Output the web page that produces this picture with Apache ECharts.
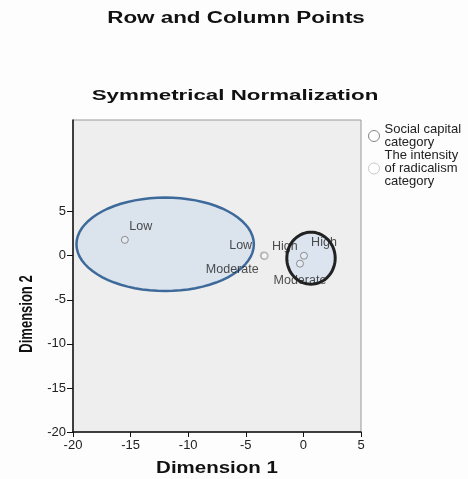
<!DOCTYPE html>
<html>
<head>
<meta charset="utf-8">
<script src="https://cdn.jsdelivr.net/npm/echarts@6/dist/echarts.min.js"></script>
<style>
  html, body { margin: 0; padding: 0; background: #fff; }
  #chart { width: 468px; height: 479px; }
</style>
</head>
<body>
<div id="chart"></div>
<script>
// 类别标签
const categories = ['Low', 'Moderate', 'High'];
// Social capital 点 [dim1, dim2]
const socialPoints = [[-15.5, 1.8], [-0.3, -0.9], [0.05, 0.0]];
// Radicalism 点
const radicalPoints = [[-3.45, 0.05], [-3.4, -0.05], [-3.35, 0.0]];
// 椭圆 [cx, cy, rx, ry]
const ellipses = [[-12.0, 1.3, 7.7, 5.3], [0.66, -0.28, 2.1, 2.95]];
const xTicks = [-20, -15, -10, -5, 0, 5];
const yTicks = [-20, -15, -10, -5, 0, 5];

const font = 'Liberation Sans, Arial, sans-serif';

// 标签偏移
const socialOffsets = [[16, -13], [0, 17], [20, -13]];
const radicalOffsets = [[-23, -10], [-32, 13], [20, -9]];

function buildData(points, offsets) {
    return points.map((p, i) => ({
        value: p,
        name: categories[i],
        label: { offset: offsets[i] }
    }));
}

const ellipseStyles = [
    { stroke: '#3d6a9a', lineWidth: 2.5, fill: 'rgba(204,218,236,0.55)' },
    { stroke: '#222', lineWidth: 3, fill: 'rgba(208,224,240,0.6)' }
];

function renderEllipse(params, api) {
    const c = api.coord([api.value(0), api.value(1)]);
    const s = api.size([api.value(2), api.value(3)]);
    const pts = [];
    for (let k = 0; k < 72; k++) {
        const t = k / 72 * Math.PI * 2;
        pts.push([c[0] + s[0] * Math.cos(t), c[1] + s[1] * Math.sin(t)]);
    }
    return {
        type: 'polygon',
        shape: { points: pts },
        style: ellipseStyles[params.dataIndex]
    };
}

const pointLabel = {
    show: true,
    position: 'inside',
    formatter: '{b}',
    color: '#222',
    fontSize: 12.5,
    fontFamily: font
};

// 横向拉伸的标题文字
function stretchedText(text, x, y, size, sx, sy, rot) {
    return {
        type: 'text',
        x: x, y: y,
        scaleX: sx, scaleY: sy,
        rotation: rot || 0,
        style: {
            text: text,
            fontSize: size,
            fontWeight: 'bold',
            fill: '#111',
            fontFamily: font,
            align: 'center',
            verticalAlign: 'middle'
        }
    };
}

let option = {
    animation: false,
    backgroundColor: '#fdfdfd',
    legend: {
        orient: 'vertical',
        left: 363,
        top: 118,
        itemWidth: 11,
        itemHeight: 11,
        itemGap: 0,
        icon: 'circle',
        textStyle: { fontSize: 13, lineHeight: 13, color: '#222', fontFamily: font },
        data: [
            { name: 'Social capital\ncategory', itemStyle: { color: '#fff', borderColor: '#666', borderWidth: 1 } },
            { name: 'The intensity\nof radicalism\ncategory', itemStyle: { color: '#fff', borderColor: '#bbb', borderWidth: 1 } }
        ]
    },
    grid: {
        left: 73, right: 107, top: 120, bottom: 47,
        show: true,
        backgroundColor: '#eeeeee',
        borderColor: '#999',
        borderWidth: 1
    },
    xAxis: {
        type: 'value',
        min: -20, max: 5, interval: 5,
        axisLine: { onZero: false, lineStyle: { color: '#111', width: 1.5 } },
        axisTick: { show: true, length: 5, lineStyle: { color: '#111' }, customValues: xTicks },
        axisLabel: { fontSize: 13, color: '#222', fontFamily: font, margin: 7, customValues: xTicks },
        splitLine: { show: false }
    },
    yAxis: {
        type: 'value',
        min: -20, max: 15.4, interval: 5,
        axisLine: { show: true, onZero: false, lineStyle: { color: '#111', width: 1.5 } },
        axisTick: { show: true, length: 6, lineStyle: { color: '#111' }, customValues: yTicks },
        axisLabel: { fontSize: 13, color: '#222', fontFamily: font, margin: 7, customValues: yTicks },
        splitLine: { show: false }
    },
    graphic: [
        stretchedText('Row and Column Points', 236, 19, 16, 1.4, 1),
        stretchedText('Symmetrical Normalization', 235, 96, 15.5, 1.44, 1),
        stretchedText('Dimension 1', 217, 469, 16, 1.28, 1),
        stretchedText('Dimension 2', 27, 314, 13, 1, 1.35, Math.PI / 2)
    ],
    series: [{
        type: 'custom',
        renderItem: renderEllipse,
        data: ellipses,
        silent: true,
        z: 1
    }, {
        name: 'Social capital\ncategory',
        type: 'scatter',
        symbol: 'circle',
        symbolSize: 7,
        itemStyle: { color: 'rgba(255,255,255,0.3)', borderColor: '#777', borderWidth: 1 },
        label: pointLabel,
        data: buildData(socialPoints, socialOffsets),
        z: 3
    }, {
        name: 'The intensity\nof radicalism\ncategory',
        type: 'scatter',
        symbol: 'circle',
        symbolSize: 7,
        itemStyle: { color: 'rgba(255,255,255,0.3)', borderColor: '#aaa', borderWidth: 1 },
        label: pointLabel,
        data: buildData(radicalPoints, radicalOffsets),
        z: 3
    }]
};

echarts.init(document.getElementById('chart')).setOption(option);
</script>
</body>
</html>
